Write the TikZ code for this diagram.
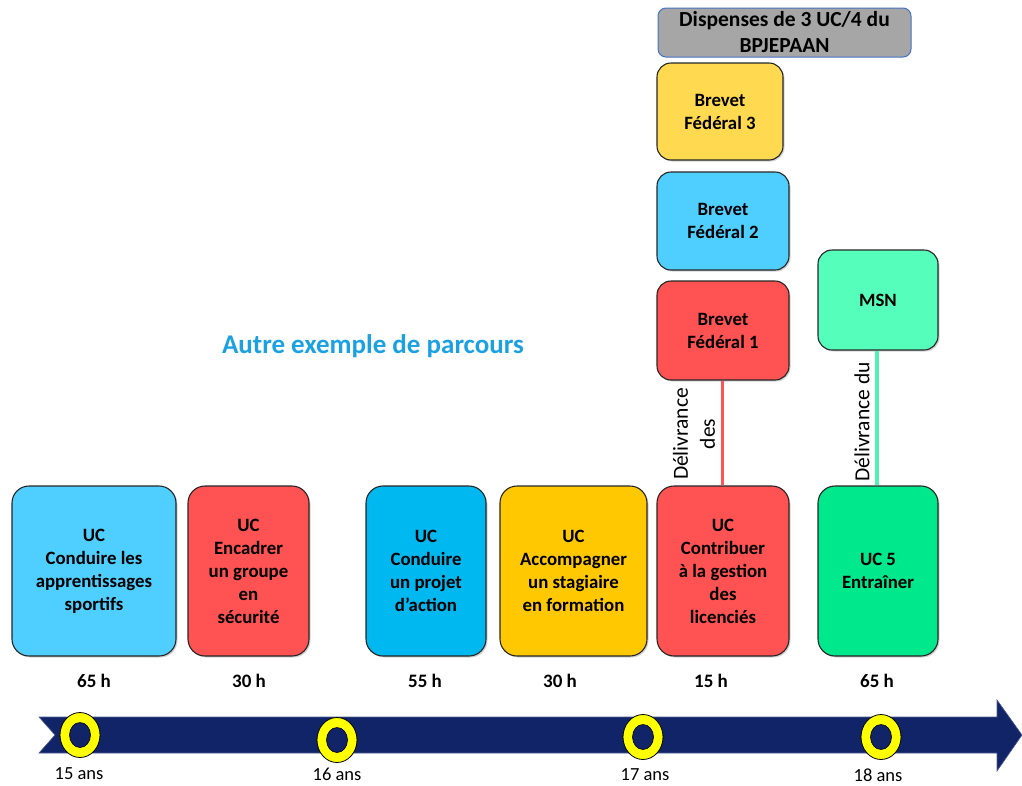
\documentclass[tikz,border=0pt]{standalone}
\usepackage{fontspec}
\setmainfont{Carlito}
\usetikzlibrary{shapes.geometric,shadows}
\definecolor{ucblue}{RGB}{79,207,255}
\definecolor{ucred}{RGB}{255,82,82}
\definecolor{uccyan}{RGB}{0,184,240}
\definecolor{ucgold}{RGB}{255,200,0}
\definecolor{ucyellow}{RGB}{255,217,80}
\definecolor{ucgreen}{RGB}{0,232,140}
\definecolor{msngreen}{RGB}{85,255,187}
\definecolor{hdrgray}{RGB}{166,166,166}
\definecolor{hdrblue}{RGB}{68,114,196}
\definecolor{navy}{RGB}{18,36,104}
\definecolor{titleblue}{RGB}{27,161,226}
\definecolor{ringyellow}{RGB}{255,255,0}
\definecolor{linered}{RGB}{255,85,85}
\definecolor{linegreen}{RGB}{85,240,180}
\begin{document}
\begin{tikzpicture}[x=1pt,y=-1pt,
  box/.style={draw=black!85, line width=1.1pt, rounded corners=17pt, align=center,
    font=\bfseries\fontsize{18.8}{23}\selectfont, inner sep=2pt,
    drop shadow={shadow xshift=1.5pt, shadow yshift=-1.5pt, opacity=0.35}},
  sbox/.style={box, rounded corners=14pt},
  hours/.style={font=\bfseries\fontsize{19}{23}\selectfont},
  age/.style={font=\fontsize{18.5}{23}\selectfont},
  vlabel/.style={rotate=90, align=center, font=\fontsize{21.5}{27}\selectfont, inner sep=0pt},
  ring/.style={ellipse, draw=black, line width=0.8pt, fill=ringyellow, minimum width=40pt, minimum height=45pt, inner sep=0pt},
  hole/.style={ellipse, draw=black, line width=0.6pt, fill=navy, minimum width=21pt, minimum height=25pt, inner sep=0pt}
]
\useasboundingbox (0,0) rectangle (1022,785);

% title
\node[font=\bfseries\fontsize{27}{32}\selectfont, text=titleblue] (title) at (373,346) {Autre exemple de parcours};

% header
\node[draw=hdrblue, line width=1pt, fill=hdrgray, rounded corners=8pt, minimum width=253pt, minimum height=49pt, align=center, inner sep=0pt,
  font=\bfseries\fontsize{21.5}{26}\selectfont] (hdr) at (784.5,32.5) {Dispenses de 3 UC/4 du\\BPJEPAAN};

% brevets
\node[sbox, fill=ucyellow, minimum width=126pt, minimum height=97pt] (bf3) at (720,111.5) {Brevet\\Fédéral 3};
\node[sbox, fill=ucblue, minimum width=132pt, minimum height=98pt] (bf2) at (723,221) {Brevet\\Fédéral 2};
\node[sbox, fill=ucred, minimum width=132pt, minimum height=99pt] (bf1) at (723,330.5) {Brevet\\Fédéral 1};
\node[sbox, fill=msngreen, minimum width=120pt, minimum height=100pt] (msn) at (878,300) {MSN};

% UC boxes
\node[box, fill=ucblue, minimum width=164pt, minimum height=170pt] (uc1) at (94,571) {UC\\Conduire les\\apprentissages\\sportifs};
\node[box, fill=ucred, minimum width=121pt, minimum height=170pt] (uc2) at (248.5,571) {UC\\Encadrer\\un groupe\\en\\sécurité};
\node[box, fill=uccyan, minimum width=120pt, minimum height=170pt] (uc3) at (426,571) {UC\\Conduire\\un projet\\d’action};
\node[box, fill=ucgold, minimum width=147pt, minimum height=170pt] (uc4) at (573.5,571) {UC\\Accompagner\\un stagiaire\\en formation};
\node[box, fill=ucred, minimum width=132pt, minimum height=170pt] (uc5) at (723,571) {UC\\Contribuer\\à la gestion\\des\\licenciés};
\node[box, fill=ucgreen, minimum width=120pt, minimum height=170pt] (uc6) at (878,571) {UC 5\\Entraîner};

% connectors
\draw[linered, line width=3pt] (bf1.south -| 722,0) -- (uc5.north -| 722,0);
\draw[linegreen, line width=3.5pt] (msn.south -| 877,0) -- (uc6.north -| 877,0);

% vertical labels
\node[vlabel] (d1) at (694,434) {Délivrance\\des};
\node[vlabel] (d2) at (862,422) {Délivrance du};

% hours
\node[hours] (h1) at (94,681) {65 h};
\node[hours] (h2) at (249,681) {30 h};
\node[hours] (h3) at (425,681) {55 h};
\node[hours] (h4) at (560,681) {30 h};
\node[hours] (h5) at (711,681) {15 h};
\node[hours] (h6) at (877,681) {65 h};

% time arrow
\draw[fill=navy, draw=navy!75!white, line width=0.6pt] (39,717) -- (997,717) -- (997,700) -- (1022,735) -- (997,771) -- (997,753) -- (39,753) -- (55,735) -- cycle;

% rings
\node[ring] (r1) at (80,735) {};
\node[hole] at (r1.center) {};
\node[ring] (r2) at (337,740) {};
\node[hole] at (r2.center) {};
\node[ring] (r3) at (643,737) {};
\node[hole] at (r3.center) {};
\node[ring] (r4) at (881,737) {};
\node[hole] at (r4.center) {};

% ages
\node[age] (a1) at (79,774) {15 ans};
\node[age] (a2) at (337,774) {16 ans};
\node[age] (a3) at (645,775) {17 ans};
\node[age] (a4) at (878,775) {18 ans};
\end{tikzpicture}
\end{document}
